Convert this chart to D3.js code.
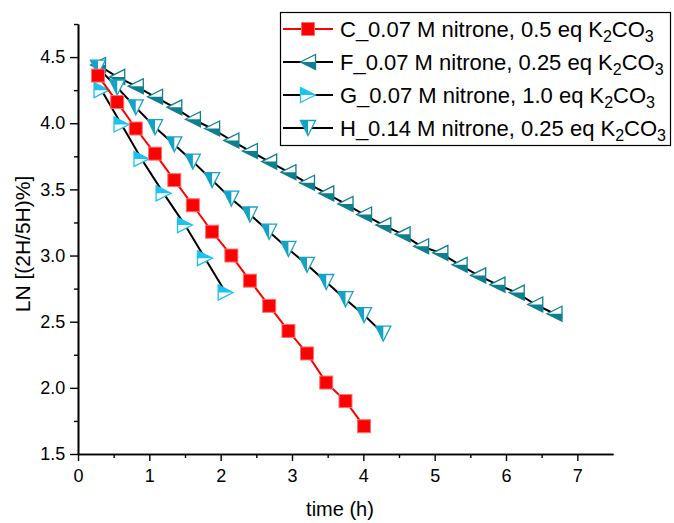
<!DOCTYPE html>
<html>
<head>
<meta charset="utf-8">
<script src="https://cdn.jsdelivr.net/npm/d3@7"></script>
<style>
  body { margin: 0; background: #fff; }
  svg { font-family: "Liberation Sans", Arial, sans-serif; }
</style>
</head>
<body>
<div id="chart"></div>
<script>
// time (h) and LN values
const timeC = [0.28, 0.55, 0.81, 1.08, 1.35, 1.61, 1.88, 2.15, 2.41, 2.68, 2.95, 3.21, 3.48, 3.75, 4.01];
const lnC = [4.36, 4.16, 3.96, 3.77, 3.57, 3.38, 3.18, 3.00, 2.81, 2.62, 2.43, 2.26, 2.04, 1.90, 1.71];

const timeF = [0.28, 0.55, 0.81, 1.08, 1.35, 1.61, 1.88, 2.15, 2.41, 2.68, 2.95, 3.21, 3.48, 3.75, 4.01,
  4.28, 4.55, 4.81, 5.08, 5.35, 5.61, 5.88, 6.15, 6.41, 6.68];
const lnF = [4.44, 4.35, 4.28, 4.20, 4.12, 4.03, 3.96, 3.87, 3.79, 3.71, 3.63, 3.55, 3.47, 3.39, 3.31,
  3.23, 3.16, 3.07, 3.02, 2.93, 2.85, 2.78, 2.72, 2.63, 2.56];

const timeG = [0.33, 0.61, 0.89, 1.20, 1.50, 1.78, 2.07];
const lnG = [4.25, 3.99, 3.73, 3.47, 3.23, 2.98, 2.72];

const timeH = [0.28, 0.55, 0.81, 1.08, 1.35, 1.61, 1.88, 2.15, 2.41, 2.68, 2.95, 3.21, 3.48, 3.75, 4.01, 4.28];
const lnH = [4.42, 4.27, 4.12, 3.97, 3.84, 3.71, 3.57, 3.43, 3.31, 3.18, 3.05, 2.93, 2.80, 2.67, 2.55, 2.41];

const xTicks = [0, 1, 2, 3, 4, 5, 6, 7];
const yTicks = [1.5, 2.0, 2.5, 3.0, 3.5, 4.0, 4.5];

const series = [
  { id: 'C', label: 'C_0.07 M nitrone, 0.5 eq ', t: timeC, v: lnC, line: '#ff0000', color: '#ff0000', shape: 'square' },
  { id: 'F', label: 'F_0.07 M nitrone, 0.25 eq ', t: timeF, v: lnF, line: '#000', color: '#0d7f8e', shape: 'left' },
  { id: 'G', label: 'G_0.07 M nitrone, 1.0 eq ', t: timeG, v: lnG, line: '#000', color: '#1cc3f0', shape: 'right' },
  { id: 'H', label: 'H_0.14 M nitrone, 0.25 eq ', t: timeH, v: lnH, line: '#000', color: '#14a3c6', shape: 'down' }
];

const width = 674, height = 523;
const x = d3.scaleLinear().domain([0, 7.5]).range([78, 613]);
const y = d3.scaleLinear().domain([1.5, 4.75]).range([454, 24]);

const svg = d3.select('#chart').append('svg')
  .attr('width', width)
  .attr('height', height);

// axes
const xAxis = d3.axisBottom(x).tickValues(xTicks).tickFormat(d3.format('d')).tickSize(7).tickSizeOuter(0);
const xMinor = d3.axisBottom(x).tickValues(d3.range(0.5, 7.5, 1)).tickFormat('').tickSize(4).tickSizeOuter(0);
const yAxis = d3.axisLeft(y).tickValues(yTicks).tickFormat(d3.format('.1f')).tickSize(8).tickSizeOuter(0);
const yMinor = d3.axisLeft(y).tickValues([1.75, 2.25, 2.75, 3.25, 3.75, 4.25, 4.75]).tickFormat('').tickSize(4).tickSizeOuter(0);

function styleAxis(g) {
  g.selectAll('path').attr('stroke', '#000').attr('stroke-width', 1.6);
  g.selectAll('line').attr('stroke', '#000').attr('stroke-width', 1.4);
  g.selectAll('text').attr('font-size', 18).attr('fill', '#000').attr('font-family', '"Liberation Sans", Arial, sans-serif');
}

svg.append('g').attr('transform', 'translate(0,454)').call(xMinor).call(styleAxis);
svg.append('g').attr('transform', 'translate(0,454)').call(xAxis).call(styleAxis)
  .selectAll('text').attr('dy', '1.0em');
svg.append('g').attr('transform', 'translate(78,0)').call(yMinor).call(styleAxis);
svg.append('g').attr('transform', 'translate(78,0)').call(yAxis).call(styleAxis)
  .selectAll('text').attr('dx', '-0.1em');

svg.append('text')
  .attr('x', 340).attr('y', 516)
  .attr('text-anchor', 'middle')
  .attr('font-size', 20)
  .text('time (h)');

svg.append('text')
  .attr('transform', 'translate(30,244) rotate(-90)')
  .attr('text-anchor', 'middle')
  .attr('font-size', 21)
  .text('LN [(2H/5H)%]');

// marker drawing: triangle half-filled like Origin
const s = 7.5;
function drawMarker(g, shape, color) {
  if (shape === 'square') {
    g.append('rect').attr('x', -6.5).attr('y', -6.5).attr('width', 13).attr('height', 13)
      .attr('fill', color).attr('stroke', '#ff7070').attr('stroke-width', 1);
    return;
  }
  let pts, half;
  if (shape === 'left') {
    pts = [[-s, 0], [s, -s], [s, s]];
    half = [[-s, 0], [s, 0], [s, s]];
  } else if (shape === 'right') {
    pts = [[s, 0], [-s, -s], [-s, s]];
    half = [[s, 0], [-s, -s], [-s, 0]];
  } else {
    pts = [[-s, -s], [s, -s], [0, s]];
    half = [[-s, -s], [0, -s], [0, s]];
  }
  g.append('polygon').attr('points', pts.join(' ')).attr('fill', '#fff');
  g.append('polygon').attr('points', half.join(' ')).attr('fill', color);
  g.append('polygon').attr('points', pts.join(' '))
    .attr('fill', 'none').attr('stroke', color).attr('stroke-width', 1.3).attr('stroke-linejoin', 'miter');
}

const line = d3.line().x(d => x(d[0])).y(d => y(d[1]));

const drawOrder = ['F', 'H', 'G', 'C'];
drawOrder.forEach(id => {
  const sr = series.find(d => d.id === id);
  const pts = sr.t.map((t, i) => [t, sr.v[i]]);
  svg.append('path')
    .datum(pts)
    .attr('d', line)
    .attr('fill', 'none')
    .attr('stroke', sr.line)
    .attr('stroke-width', 2);
  svg.append('g').selectAll('g')
    .data(pts)
    .join('g')
    .attr('transform', d => `translate(${x(d[0])},${y(d[1])})`)
    .each(function () { drawMarker(d3.select(this), sr.shape, sr.color); });
});

// legend
const legend = svg.append('g');
legend.append('rect')
  .attr('x', 280.5).attr('y', 12.5).attr('width', 390).attr('height', 133)
  .attr('fill', '#fff').attr('stroke', '#000').attr('stroke-width', 1.2);

series.forEach((sr, i) => {
  const ly = 29 + i * 33;
  const row = legend.append('g').attr('transform', `translate(0,${ly})`);
  row.append('line').attr('x1', 283).attr('x2', 333).attr('y1', 0).attr('y2', 0)
    .attr('stroke', sr.line).attr('stroke-width', 2);
  drawMarker(row.append('g').attr('transform', 'translate(308,0)'), sr.shape, sr.color);
  const txt = row.append('text').attr('x', 340).attr('y', 8).attr('font-size', 22);
  txt.append('tspan').text(sr.label + 'K');
  txt.append('tspan').attr('font-size', 16).attr('dy', 5).text('2');
  txt.append('tspan').attr('dy', -5).text('CO');
  txt.append('tspan').attr('font-size', 16).attr('dy', 5).text('3');
});
</script>
</body>
</html>
